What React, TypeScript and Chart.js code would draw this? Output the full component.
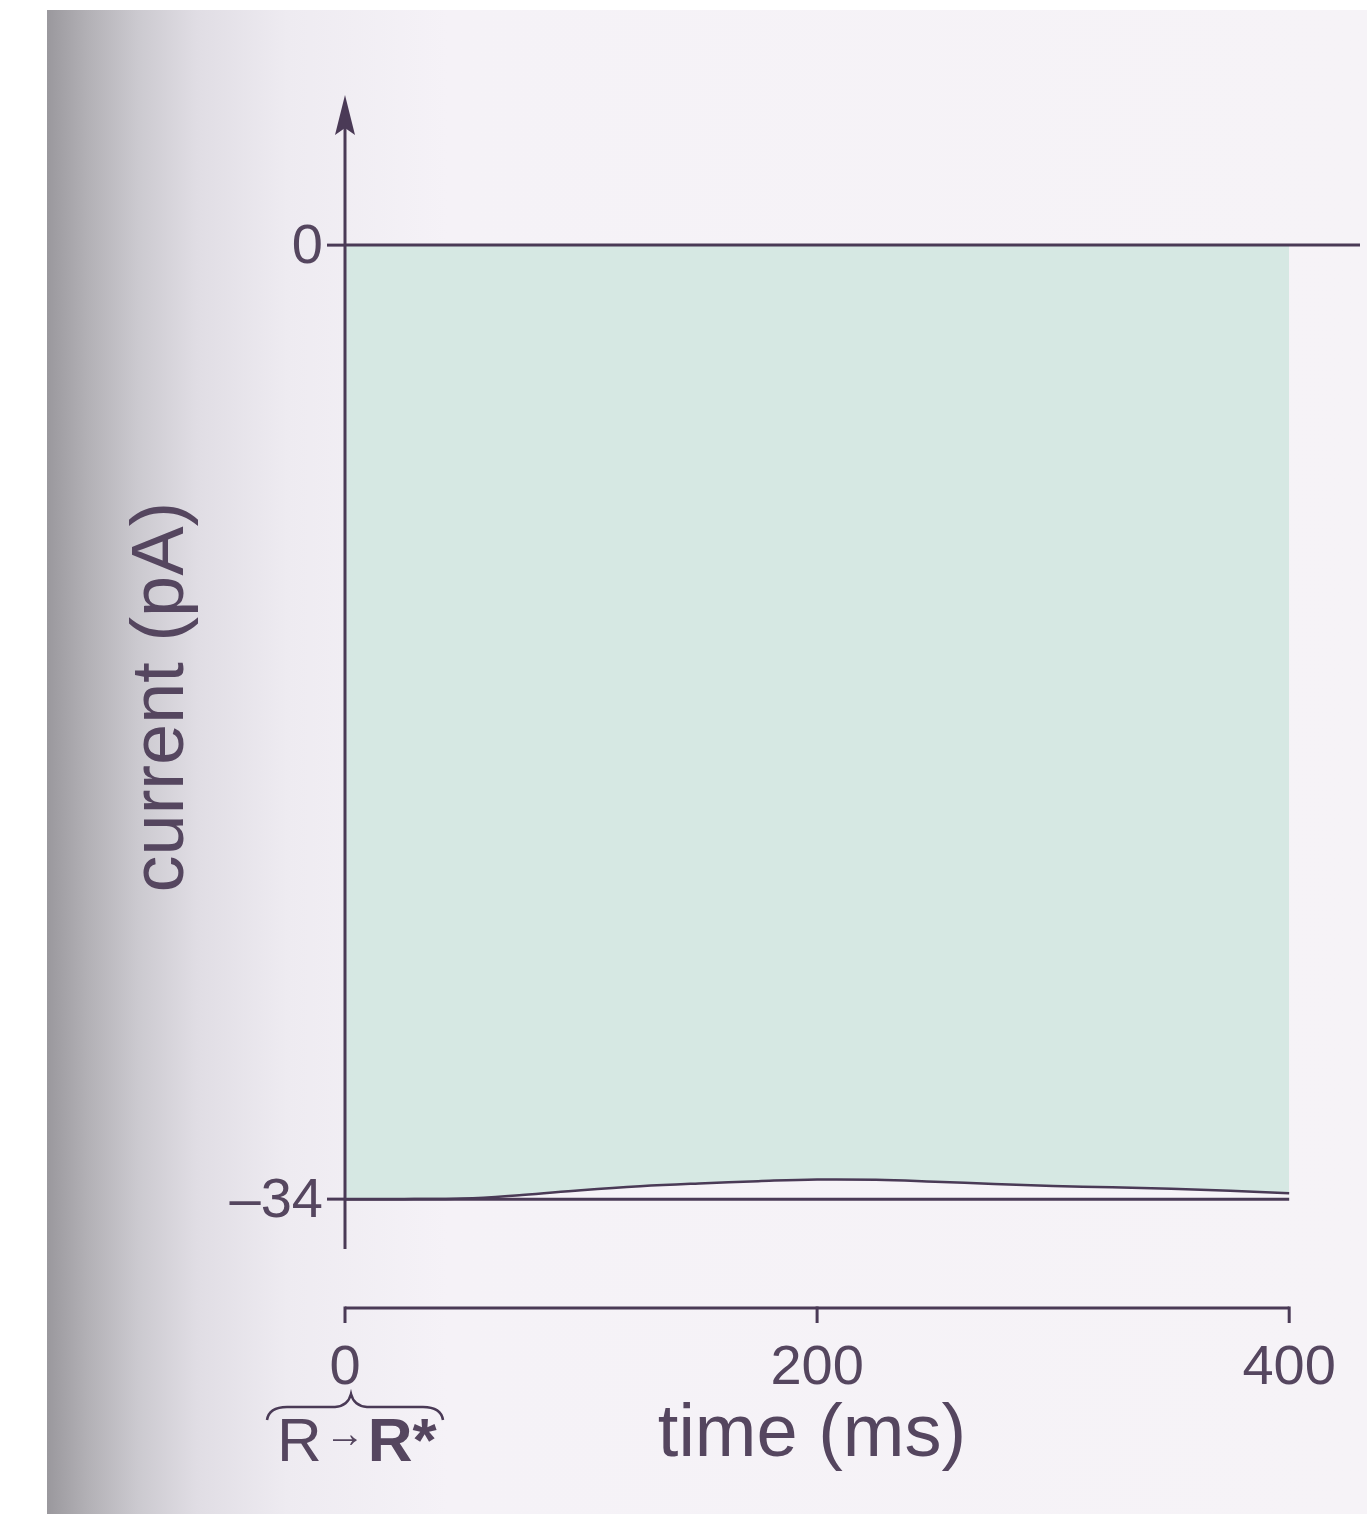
import React, { useEffect, useRef } from "react";
import { Chart, registerables } from "chart.js";

Chart.register(...registerables);

// ---- data ----
const timeMs = [0, 25, 50, 75, 100, 125, 150, 175, 200, 225, 250, 275, 300, 325, 350, 375, 400];
const currentPA = [-34, -34, -33.98, -33.85, -33.68, -33.54, -33.44, -33.36, -33.3, -33.31, -33.38, -33.46, -33.53, -33.58, -33.63, -33.7, -33.79];
const zeroLineTime = [0, 430];
const zeroLineCurrent = [0, 0];
const floorLineTime = [0, 400];
const floorLineCurrent = [-34, -34];
const xTickValues = [0, 200, 400];
const xTickLabels = ["0", "200", "400"];
const yTickValues = [0, -34];
const yTickLabels = ["0", "\u201334"];
const xTitle = "time (ms)";
const yTitle = "current (pA)";

const X_MIN = 0;
const X_MAX = 430;
const Y_MIN = -37.88;
const Y_MAX = 5.35;
const Y_AXIS_BOTTOM = -35.78;

const INK = "#4a3a56";
const TEXT = "#55465f";
const FILL = "rgba(212, 231, 226, 0.95)";
const FONT = '"Liberation Sans", Arial, sans-serif';

const toPoints = (xs: number[], ys: number[]) => xs.map((x, i) => ({ x, y: ys[i] }));

const axesPlugin = {
  id: "sketchAxes",
  afterDatasetsDraw(chart: any) {
    const ctx = chart.ctx as CanvasRenderingContext2D;
    const xs = chart.scales.x;
    const ys = chart.scales.y;
    const x0 = xs.getPixelForValue(0);
    const top = ys.top;
    ctx.save();
    ctx.strokeStyle = INK;
    ctx.fillStyle = INK;
    ctx.lineWidth = 3;
    ctx.lineCap = "butt";

    // y axis line
    ctx.beginPath();
    ctx.moveTo(x0, top + 25);
    ctx.lineTo(x0, ys.getPixelForValue(Y_AXIS_BOTTOM));
    ctx.stroke();
    // arrow head
    ctx.beginPath();
    ctx.moveTo(x0, top);
    ctx.lineTo(x0 - 10, top + 40);
    ctx.lineTo(x0, top + 33);
    ctx.lineTo(x0 + 10, top + 40);
    ctx.closePath();
    ctx.fill();

    // y ticks
    ctx.font = `56px ${FONT}`;
    ctx.textAlign = "right";
    ctx.textBaseline = "middle";
    yTickValues.forEach((v, i) => {
      const y = ys.getPixelForValue(v);
      ctx.beginPath();
      ctx.moveTo(x0 - 18, y);
      ctx.lineTo(x0, y);
      ctx.stroke();
      ctx.fillStyle = TEXT;
      ctx.fillText(yTickLabels[i], x0 - 22, y + 2);
    });

    // x axis
    const xa = ys.bottom;
    const xLeft = xs.getPixelForValue(xTickValues[0]);
    const xRight = xs.getPixelForValue(xTickValues[xTickValues.length - 1]);
    ctx.strokeStyle = INK;
    ctx.beginPath();
    ctx.moveTo(xLeft, xa);
    ctx.lineTo(xRight, xa);
    ctx.stroke();
    ctx.textAlign = "center";
    ctx.textBaseline = "alphabetic";
    xTickValues.forEach((v, i) => {
      const x = xs.getPixelForValue(v);
      ctx.beginPath();
      ctx.moveTo(x, xa - 1.5);
      ctx.lineTo(x, xa + 15);
      ctx.stroke();
      ctx.fillStyle = TEXT;
      ctx.fillText(xTickLabels[i], x, xa + 76);
    });

    // x title
    ctx.font = `74px ${FONT}`;
    ctx.fillText(xTitle, 812, xa + 148);

    // y title
    ctx.save();
    const yMid = (ys.getPixelForValue(0) + ys.getPixelForValue(-34)) / 2 - 25;
    ctx.translate(x0 - 182, yMid);
    ctx.rotate(-Math.PI / 2);
    ctx.textAlign = "center";
    ctx.textBaseline = "middle";
    ctx.font = `74px ${FONT}`;
    ctx.fillText(yTitle, 0, 0);
    ctx.restore();

    // brace under 0 and R -> R*
    const bx = x0 + 6;
    const by = xa + 96;
    ctx.lineWidth = 2.5;
    ctx.strokeStyle = INK;
    ctx.beginPath();
    ctx.moveTo(bx - 84, by + 16);
    ctx.quadraticCurveTo(bx - 82, by + 3, bx - 64, by + 3);
    ctx.lineTo(bx - 16, by + 3);
    ctx.quadraticCurveTo(bx - 3, by + 2, bx, by - 10);
    ctx.quadraticCurveTo(bx + 3, by + 2, bx + 16, by + 3);
    ctx.lineTo(bx + 72, by + 3);
    ctx.quadraticCurveTo(bx + 90, by + 3, bx + 92, by + 16);
    ctx.stroke();

    ctx.fillStyle = TEXT;
    ctx.textAlign = "left";
    ctx.textBaseline = "alphabetic";
    const base = xa + 153;
    let cx = bx - 74;
    ctx.font = `62px ${FONT}`;
    ctx.fillText("R", cx, base);
    cx += ctx.measureText("R").width + 3;
    ctx.font = `40px ${FONT}`;
    ctx.fillText("\u2192", cx, base - 14);
    cx += ctx.measureText("\u2192").width + 3;
    ctx.font = `bold 62px ${FONT}`;
    ctx.fillText("R*", cx, base);
    ctx.restore();
  },
};

export default function App() {
  const ref = useRef<HTMLCanvasElement | null>(null);
  useEffect(() => {
    if (!ref.current) return;
    const chart = new Chart(ref.current, {
      type: "line",
      data: {
        datasets: [
          {
            label: "current",
            data: toPoints(timeMs, currentPA),
            borderColor: INK,
            borderWidth: 2.5,
            backgroundColor: FILL,
            fill: { value: 0 } as any,
            pointRadius: 0,
            tension: 0.4,
            order: 3,
          },
          {
            label: "zero",
            data: toPoints(zeroLineTime, zeroLineCurrent),
            borderColor: INK,
            borderWidth: 3,
            fill: false,
            pointRadius: 0,
            order: 1,
          },
          {
            label: "floor",
            data: toPoints(floorLineTime, floorLineCurrent),
            borderColor: INK,
            borderWidth: 3,
            fill: false,
            pointRadius: 0,
            order: 2,
          },
        ],
      },
      options: {
        animation: false,
        responsive: false,
        devicePixelRatio: 1,
        layout: { padding: { left: 345, right: 7, top: 95, bottom: 206 } },
        plugins: { legend: { display: false }, tooltip: { enabled: false } },
        scales: {
          x: { type: "linear", min: X_MIN, max: X_MAX, display: false },
          y: { type: "linear", min: Y_MIN, max: Y_MAX, display: false },
        },
      },
      plugins: [axesPlugin],
    });
    return () => chart.destroy();
  }, []);

  return (
    <div style={{ position: "absolute", left: 0, top: 0, width: 1367, height: 1514, background: "#ffffff", overflow: "hidden" }}>
      <div
        style={{
          position: "absolute",
          left: 47,
          top: 10,
          width: 1320,
          height: 1504,
          background:
            "linear-gradient(to right, #9a989d 0px, #b2b0b5 40px, #cbc9cf 90px, #e0dde4 150px, #eeebf1 240px, #f5f2f7 400px, #f6f3f7 100%)",
        }}
      />
      <canvas ref={ref} width={1367} height={1514} style={{ position: "absolute", left: 0, top: 0, width: 1367, height: 1514 }} />
    </div>
  );
}
